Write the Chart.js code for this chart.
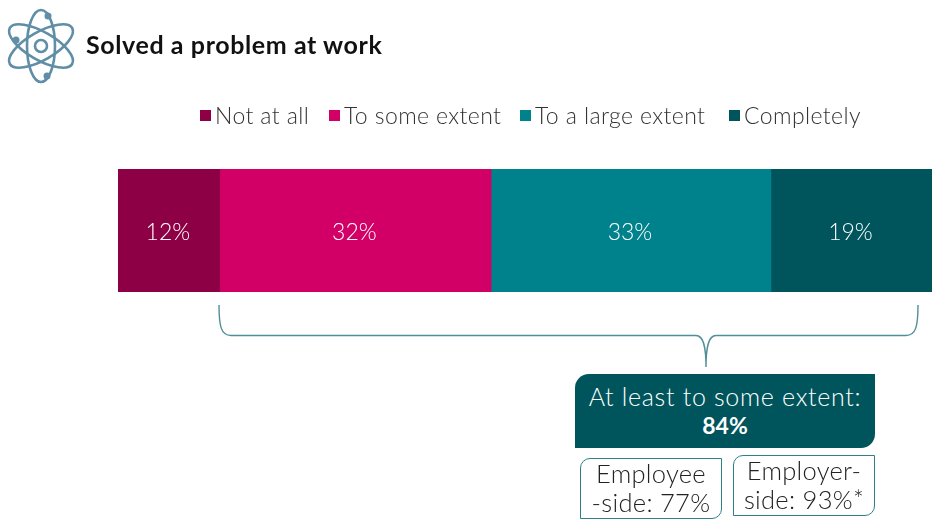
<!DOCTYPE html>
<html>
<head>
<meta charset="utf-8">
<title>Solved a problem at work</title>
<script src="https://cdn.jsdelivr.net/npm/chart.js@4/dist/chart.umd.min.js"></script>
<style>
  html, body { margin: 0; padding: 0; background: #fff; }
  body { width: 932px; height: 523px; position: relative; overflow: hidden; font-family: Lato, sans-serif; }
  canvas { position: absolute; left: 0; top: 0; }
  svg { position: absolute; left: 0; top: 0; }
  .title { position: absolute; left: 86px; top: 29px; font-size: 25px; line-height: 30px; font-weight: 700; color: #111; letter-spacing: 0.6px; white-space: nowrap; }
  .legend-item { position: absolute; top: 101px; height: 28px; line-height: 28px; font-size: 23px; font-weight: 300; color: #333; white-space: nowrap; letter-spacing: 0.4px; }
  .legend-item i { position: absolute; left: -15px; top: 9px; width: 11px; height: 11px; }
  .box { position: absolute; box-sizing: border-box; text-align: center; white-space: nowrap; }
  .summary { left: 575px; top: 374px; width: 300px; height: 74px; background: #00555c; color: #fff; border-radius: 14px 0 14px 0; font-size: 25px; font-weight: 300; line-height: 28px; padding-top: 8px; letter-spacing: 0.7px; }
  .summary b { font-weight: 700; font-size: 23px; letter-spacing: 0; }
  .side { width: 142px; height: 61px; background: #fff; border: 1px solid #2f7f86; border-radius: 10px 0 10px 0; color: #222; font-size: 25.5px; font-weight: 300; line-height: 29px; padding-top: 0; letter-spacing: 0.3px; }
</style>
</head>
<body>
<canvas id="chart" width="932" height="523"></canvas>

<!-- atom icon and the bracket under the bar -->
<svg width="932" height="523" fill="none">
  <g stroke="#5f8ea6" stroke-width="2.6">
    <ellipse cx="41" cy="46" rx="14" ry="36"/>
    <ellipse cx="41" cy="46" rx="14" ry="36" transform="rotate(60 41 46)"/>
    <ellipse cx="41" cy="46" rx="14" ry="36" transform="rotate(-60 41 46)"/>
    <circle cx="41" cy="46" r="6"/>
  </g>
  <g fill="#5f8ea6">
    <circle cx="48" cy="16" r="3.5"/>
    <circle cx="16" cy="40" r="3.5"/>
    <circle cx="47" cy="76" r="3.5"/>
  </g>
  <path d="M219 305 C219 326 221 335.5 231 335.5 L696 335.5 C703 335.5 706 345 706 367 C706 345 709 335.5 716 335.5 L906 335.5 C916 335.5 918 326 918 305"
        stroke="#4f8f96" stroke-width="1.4"/>
</svg>

<div class="title">Solved a problem at work</div>
<div id="legend"></div>

<div class="box summary">At least to some extent:<br><b>84%</b></div>
<div class="box side" style="left:580px; top:458px;">Employee<br>-side: 77%</div>
<div class="box side" style="left:733px; top:455px;">Employer-<br>side: 93%*</div>

<script>
const categories = ["Solved a problem at work"];
const seriesNames = ["Not at all", "To some extent", "To a large extent", "Completely"];
const seriesValues = [12, 32, 33, 19];
const seriesColors = ["#8e0045", "#d20066", "#00828c", "#00555c"];
const legendLeft = [215, 344, 535, 744];

// --- Legend ---
const legend = document.getElementById("legend");
seriesNames.forEach((name, i) => {
  const item = document.createElement("div");
  item.className = "legend-item";
  item.style.left = legendLeft[i] + "px";
  item.innerHTML = `<i style="background:${seriesColors[i]}"></i>${name}`;
  legend.appendChild(item);
});

// --- Percent labels in the middle of each segment ---
const segmentLabels = {
  id: "segmentLabels",
  afterDatasetsDraw(chart) {
    const { ctx } = chart;
    ctx.save();
    ctx.font = "300 23px Lato, sans-serif";
    ctx.fillStyle = "#fff";
    ctx.textAlign = "center";
    ctx.textBaseline = "middle";
    chart.data.datasets.forEach((ds, i) => {
      const bar = chart.getDatasetMeta(i).data[0];
      const mid = bar.getCenterPoint();
      ctx.fillText(ds.data[0] + "%", mid.x - 1, mid.y + 2);
    });
    ctx.restore();
  }
};

new Chart(document.getElementById("chart"), {
  type: "bar",
  data: {
    labels: categories,
    datasets: seriesNames.map((name, i) => ({
      label: name,
      data: [seriesValues[i]],
      backgroundColor: seriesColors[i],
      borderWidth: 0,
      barPercentage: 1,
      categoryPercentage: 1
    }))
  },
  options: {
    indexAxis: "y",
    responsive: false,
    animation: false,
    layout: { padding: { left: 118, right: 0, top: 169, bottom: 231 } },
    plugins: { legend: { display: false }, tooltip: { enabled: false } },
    scales: {
      x: { stacked: true, display: false, min: 0, max: 96 },
      y: { stacked: true, display: false }
    }
  },
  plugins: [segmentLabels]
});
</script>
</body>
</html>
